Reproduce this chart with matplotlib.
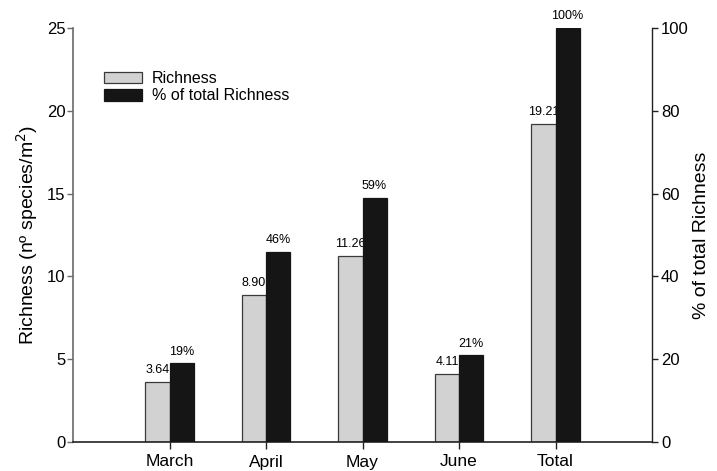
import numpy as np
import matplotlib.pyplot as plt
from matplotlib.patches import Patch

plt.rcParams['font.family'] = ['Liberation Sans', 'DejaVu Sans']

months = ['March', 'April', 'May', 'June', 'Total']
richness = [3.64, 8.90, 11.26, 4.11, 19.21]
pct_total = [19, 46, 59, 21, 100]

grey = '#d2d2d2'
black = '#151515'
w = 0.25

fig = plt.figure(figsize=(7.17, 4.71), dpi=100)
ax = fig.add_axes([73/717, 1 - 442/471, (652 - 73)/717, (442 - 28)/471])
ax2 = ax.twinx()

x = np.arange(1, len(months) + 1)
ax.bar(x - w/2, richness, w, color=grey, edgecolor='#3a3a3a', linewidth=0.9, zorder=2)
ax2.bar(x + w/2, pct_total, w, color=black, edgecolor='#151515', linewidth=0.9, zorder=2)

for xi, v in zip(x, richness):
    ax.annotate(f'{v:.2f}', (xi - w/2, v), xytext=(0, 4), textcoords='offset points',
                ha='center', va='bottom', fontsize=9)
for xi, v in zip(x, pct_total):
    ax2.annotate(f'{v}%', (xi + w/2, v), xytext=(0, 4), textcoords='offset points',
                 ha='center', va='bottom', fontsize=9)

ax.set_xlim(0, 6)
ax.set_ylim(0, 25)
ax2.set_ylim(0, 100)
ax.set_xticks(x)
ax.set_xticklabels(months)
ax.set_yticks(np.arange(0, 26, 5))
ax2.set_yticks(np.arange(0, 101, 20))

ax.spines['top'].set_visible(False)
ax2.spines['top'].set_visible(False)
ax.spines['right'].set_visible(False)
ax2.spines['left'].set_visible(False)
ax2.spines['bottom'].set_visible(False)
ax.spines['left'].set_color('#6a6a6a')
ax.spines['bottom'].set_color('#222222')
ax2.spines['right'].set_color('#222222')
for s in ('left', 'bottom'):
    ax.spines[s].set_linewidth(1.2)
ax2.spines['right'].set_linewidth(1.0)

ax.tick_params(axis='y', length=4.5, width=1, color='#6a6a6a', labelsize=12, pad=1)
ax.tick_params(axis='x', length=5, width=1, color='#222222', labelsize=12.5, pad=4)
ax2.tick_params(axis='y', length=4.5, width=1, color='#222222', labelsize=12, pad=2)

ax.set_ylabel('Richness (nº species/m$^2$)', fontsize=14, labelpad=5)
ax2.set_ylabel('% of total Richness', fontsize=14, labelpad=3)

handles = [Patch(facecolor=grey, edgecolor='#3a3a3a', linewidth=0.9),
           Patch(facecolor=black, edgecolor='#151515', linewidth=0.9)]
ax2.legend(handles, ['Richness', '% of total Richness'], loc='upper left',
           bbox_to_anchor=(104/717, 1 - 71/471), bbox_transform=fig.transFigure,
           frameon=False, fontsize=11.5, handlelength=2.4, handleheight=0.72,
           handletextpad=0.6, labelspacing=0.15, borderpad=0, borderaxespad=0)

fig.savefig('out.png', dpi=100)
